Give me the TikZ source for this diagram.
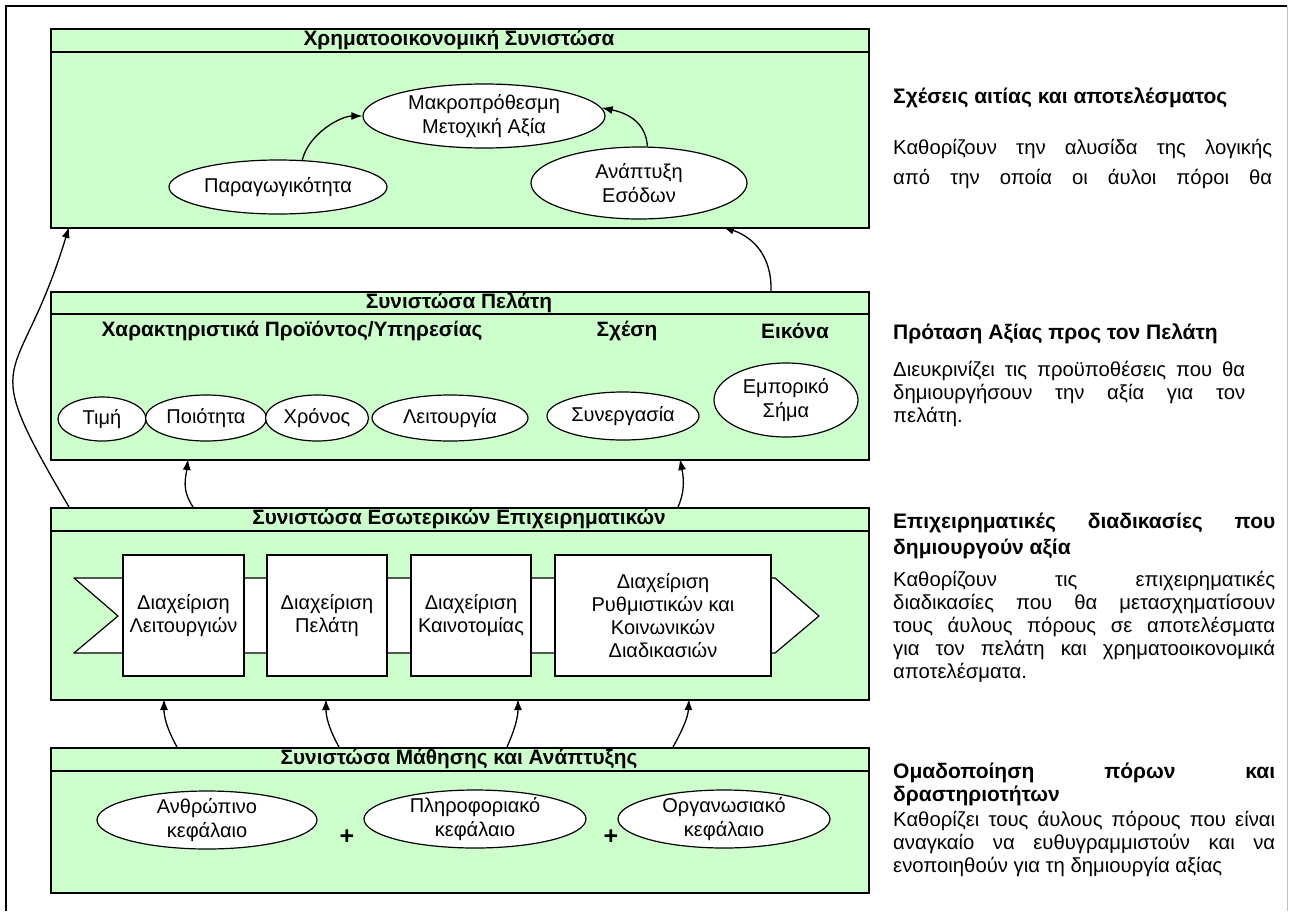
\documentclass[tikz,border=0pt]{standalone}
\usepackage{fontspec}
\setmainfont{Liberation Sans}
\usetikzlibrary{shapes.geometric,arrows.meta}
\definecolor{panelgreen}{RGB}{204,255,204}
% one justified line of a given width
\newcommand{\fillrow}[2]{\makebox[#1][s]{#2}}

\begin{document}
\begin{tikzpicture}[x=1pt,y=-1pt,
  txt/.style={font=\fontsize{20}{24}\selectfont, inner sep=0pt, align=center},
  bold/.style={font=\bfseries\fontsize{20.8}{23}\selectfont, inner sep=0pt, align=center},
  rtitle/.style={font=\bfseries\fontsize{21}{23}\selectfont, inner sep=0pt, align=left, anchor=base west},
  rbody/.style={font=\fontsize{20.3}{23}\selectfont, inner sep=0pt, align=left, anchor=base west},
  panel/.style={rectangle, draw, line width=1.6pt, fill=panelgreen, anchor=north west,
                minimum width=818pt, inner sep=0pt},
  ell/.style={ellipse, draw, fill=white, line width=1.2pt, inner sep=0pt},
  procbox/.style={rectangle, draw, fill=white, line width=1.2pt, inner sep=0pt,
                  minimum height=121pt, align=center, font=\fontsize{20}{23}\selectfont},
  conn/.style={line width=1.3pt, -{Latex[length=11pt,width=8pt]}},
  plus/.style={font=\bfseries\fontsize{25}{25}\selectfont, inner sep=0pt},
]
\useasboundingbox (0,0) rectangle (1293,911);

% outer frame
\draw[line width=1.4pt] (6,911) -- (6,6) -- (1287,6);
\draw[line width=0.8pt, black!25] (1287,6) -- (1287,911);

% ---------- panels ----------
\node[panel, minimum height=199pt] (fin) at (50,28) {};
\draw[line width=1.6pt] (50,52) -- (868,52);
\node[bold] (fin-h) at (459,40) {Χρηματοοικονομική Συνιστώσα};

\node[panel, minimum height=168pt] (cust) at (50,291) {};
\draw[line width=1.6pt] (50,314) -- (868,314);
\node[bold] (cust-h) at (459,302.5) {Συνιστώσα Πελάτη};

\node[panel, minimum height=192pt] (int) at (50,507) {};
\draw[line width=1.6pt] (50,531) -- (868,531);
\node[bold] (int-h) at (459,519) {Συνιστώσα Εσωτερικών Επιχειρηματικών};

\node[panel, minimum height=145pt] (learn) at (50,747) {};
\draw[line width=1.6pt] (50,771) -- (868,771);
\node[bold] (learn-h) at (459,759) {Συνιστώσα Μάθησης και Ανάπτυξης};

% ---------- financial perspective ----------
\node[ell, minimum width=242pt, minimum height=64pt] (macro) at (484,116) {};
\node[txt] (macro-t) at (macro.center) {Μακροπρόθεσμη\\Μετοχική Αξία};
\node[ell, minimum width=218pt, minimum height=54pt] (prod) at (278,187) {};
\node[txt] (prod-t) at (prod.center) {Παραγωγικότητα};
\node[ell, minimum width=216pt, minimum height=72pt] (rev) at (639,183) {};
\node[txt] (rev-t) at (rev.center) {Ανάπτυξη\\Εσόδων};

% ---------- customer perspective ----------
\node[bold] (ch1) at (292,331) {Χαρακτηριστικά Προϊόντος/Υπηρεσίας};
\node[bold] (ch2) at (627,331) {Σχέση};
\node[bold] (ch3) at (795,331) {Εικόνα};

\node[ell, minimum width=88pt, minimum height=44pt] (price) at (102,419) {};
\node[txt] (price-t) at (price.center) {Τιμή};
\node[ell, minimum width=121pt, minimum height=46pt] (qual) at (206,418) {};
\node[txt] (qual-t) at (qual.center) {Ποιότητα};
\node[ell, minimum width=103pt, minimum height=46pt] (time) at (317,418) {};
\node[txt] (time-t) at (time.center) {Χρόνος};
\node[ell, minimum width=156pt, minimum height=46pt] (func) at (450,418) {};
\node[txt] (func-t) at (func.center) {Λειτουργία};
\node[ell, minimum width=152pt, minimum height=48pt] (coop) at (623,416) {};
\node[txt] (coop-t) at (coop.center) {Συνεργασία};
\node[ell, minimum width=144pt, minimum height=74pt] (brand) at (786,400) {};
\node[txt] (brand-t) at (brand.center) {Εμπορικό\\Σήμα};

% ---------- internal process perspective ----------
\draw[line width=1.2pt, fill=white, line join=round]
  (74,578) -- (775,578) -- (819,616) -- (775,653) -- (74,653) -- (118,616) -- cycle;
\node[procbox, minimum width=121pt] (ops) at (183.5,615.5) {Διαχείριση\\Λειτουργιών};
\node[procbox, minimum width=120pt] (crm) at (327,615.5) {Διαχείριση\\Πελάτη};
\node[procbox, minimum width=120pt] (innov) at (471,615.5) {Διαχείριση\\Καινοτομίας};
\node[procbox, minimum width=216pt] (reg) at (663,615.5) {Διαχείριση\\Ρυθμιστικών και\\Κοινωνικών\\Διαδικασιών};

% ---------- learning and growth perspective ----------
\node[ell, minimum width=220pt, minimum height=58pt] (hum) at (207,820) {};
\node[txt] (hum-t) at (hum.center) {Ανθρώπινο\\κεφάλαιο};
\node[ell, minimum width=222pt, minimum height=58pt] (info) at (475,819) {};
\node[txt] (info-t) at (info.center) {Πληροφοριακό\\κεφάλαιο};
\node[ell, minimum width=212pt, minimum height=58pt] (org) at (724,819) {};
\node[txt] (org-t) at (org.center) {Οργανωσιακό\\κεφάλαιο};
\node[plus] (plus1) at (347,837) {+};
\node[plus] (plus2) at (611,837) {+};

% ---------- connector end points on panel edges ----------
\coordinate (fin-in-l) at (69,227);
\coordinate (fin-in-r) at (723,227);
\coordinate (cust-out-r) at (771,291);
\coordinate (cust-in-1) at (188,459);
\coordinate (cust-in-2) at (680,459);
\coordinate (int-out-l) at (69,507);
\coordinate (int-out-1) at (193,507);
\coordinate (int-out-2) at (678,507);
\coordinate (int-in-1) at (164,699);
\coordinate (int-in-2) at (326,699);
\coordinate (int-in-3) at (518,699);
\coordinate (int-in-4) at (689,699);
\coordinate (learn-out-1) at (177,747);
\coordinate (learn-out-2) at (339,747);
\coordinate (learn-out-3) at (507,747);
\coordinate (learn-out-4) at (673,747);

% ---------- cause-and-effect connectors ----------
\draw[conn] (prod.48) .. controls (309,133) and (341,116) .. (macro.west);
\draw[conn] (rev.77) .. controls (646,122) and (627,113) .. (macro.4);
\draw[conn] (cust-out-r) .. controls (772,256) and (753,237) .. (fin-in-r);
\draw[conn] (int-out-l) .. controls (-26,345) and (18,395) .. (fin-in-l);
\draw[conn] (int-out-1) .. controls (181,489) and (186,477) .. (cust-in-1);
\draw[conn] (int-out-2) .. controls (686,489) and (683,475) .. (cust-in-2);
\draw[conn] (learn-out-1) .. controls (167,729) and (164,717) .. (int-in-1);
\draw[conn] (learn-out-2) .. controls (329,729) and (326,717) .. (int-in-2);
\draw[conn] (learn-out-3) .. controls (515,729) and (518,717) .. (int-in-3);
\draw[conn] (learn-out-4) .. controls (683,729) and (688,717) .. (int-in-4);

% ---------- explanatory column (base anchor = last line) ----------
\node[rtitle] (r1t) at (893,103) {Σχέσεις αιτίας και αποτελέσματος};
\node[rbody] (r1b) at (893,184) {\fillrow{379pt}{Καθορίζουν την αλυσίδα της λογικής}\\[7pt]
  \fillrow{379pt}{από την οποία οι άυλοι πόροι θα}};

\node[rtitle] (r2t) at (893,339) {Πρόταση Αξίας προς τον Πελάτη};
\node[rbody] (r2b) at (893,422) {\fillrow{352pt}{Διευκρινίζει τις προϋποθέσεις που θα}\\
  \fillrow{352pt}{δημιουργήσουν την αξία για τον}\\
  πελάτη.};

\node[rtitle] (r3t) at (893,554) {\fillrow{382pt}{Επιχειρηματικές διαδικασίες που}\\[3pt]
  δημιουργούν αξία};
\node[rbody] (r3b) at (893,678) {\fillrow{382pt}{Καθορίζουν τις επιχειρηματικές}\\
  \fillrow{382pt}{διαδικασίες που θα μετασχηματίσουν}\\
  \fillrow{382pt}{τους άυλους πόρους σε αποτελέσματα}\\
  \fillrow{382pt}{για τον πελάτη και χρηματοοικονομικά}\\
  αποτελέσματα.};

\node[rtitle] (r4t) at (893,801) {\fillrow{382pt}{Ομαδοποίηση πόρων και}\\
  δραστηριοτήτων};
\node[rbody] (r4b) at (893,872) {\fillrow{382pt}{Καθορίζει τους άυλους πόρους που είναι}\\
  \fillrow{382pt}{αναγκαίο να ευθυγραμμιστούν και να}\\
  ενοποιηθούν για τη δημιουργία αξίας};
\end{tikzpicture}
\end{document}
